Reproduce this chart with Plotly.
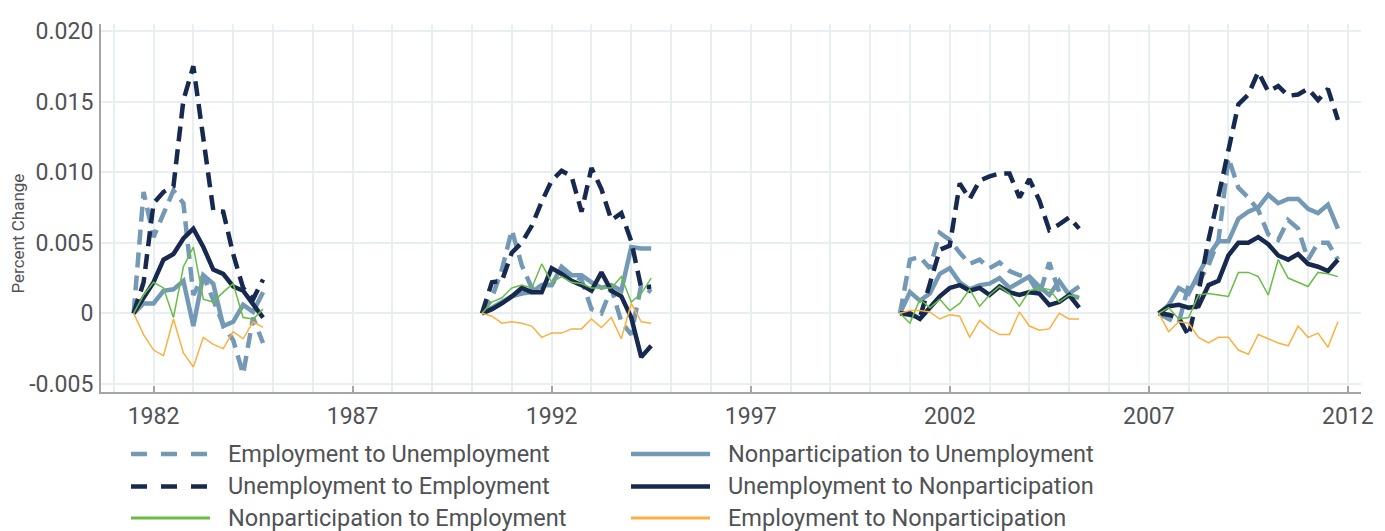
import plotly.graph_objects as go

# ---------------- data (quarterly, change since start of episode) ----------------
episode_starts = [1981.5, 1990.25, 2000.75, 2007.25]
episode_lengths = [14, 18, 19, 19]

series_names = [
    "Employment to Unemployment",
    "Nonparticipation to Unemployment",
    "Unemployment to Employment",
    "Unemployment to Nonparticipation",
    "Nonparticipation to Employment",
    "Employment to Nonparticipation",
]

emp_to_unemp = [
    0, 0.0086, 0.0054, 0.0071, 0.0087, 0.0078, 0.0013, 0.0027, 0.0010, -0.0008, -0.0019, -0.0043, -0.0003, -0.0021, None,
    0, 0.0011, 0.0031, 0.0059, 0.0034, 0.0018, 0.0020, 0.0020, 0.0031, 0.0027, 0.0024, 0.0003, 0.0000, 0.0018, -0.0006, -0.0015, 0.0020, 0.0015, None,
    0, 0.0038, 0.0040, 0.0032, 0.0057, 0.0052, 0.0043, 0.0035, 0.0038, 0.0032, 0.0036, 0.0030, 0.0027, 0.0025, 0.0013, 0.0036, 0.0015, 0.0014, 0.0019, None,
    0, -0.0004, -0.0007, 0.0020, 0.0022, 0.0034, 0.0052, 0.0110, 0.0089, 0.0082, 0.0073, 0.0056, 0.0052, 0.0066, 0.0060, 0.0038, 0.0050, 0.0050, 0.0038,
]
nonpart_to_unemp = [
    0, 0.0007, 0.0007, 0.0016, 0.0017, 0.0023, -0.0009, 0.0027, 0.0021, -0.0009, -0.0006, 0.0006, 0.0001, 0.0015, None,
    0, 0.0004, 0.0008, 0.0012, 0.0014, 0.0015, 0.0020, 0.0020, 0.0033, 0.0027, 0.0027, 0.0022, 0.0018, 0.0020, 0.0016, 0.0047, 0.0046, 0.0046, None,
    0, 0.0015, 0.0009, 0.0014, 0.0028, 0.0032, 0.0022, 0.0017, 0.0020, 0.0021, 0.0025, 0.0018, 0.0022, 0.0026, 0.0019, 0.0013, 0.0023, 0.0013, 0.0011, None,
    0, 0.0006, 0.0018, 0.0014, 0.0028, 0.0041, 0.0051, 0.0051, 0.0067, 0.0072, 0.0075, 0.0084, 0.0078, 0.0081, 0.0081, 0.0074, 0.0071, 0.0077, 0.0060,
]
unemp_to_emp = [
    0, 0.0022, 0.0078, 0.0086, 0.0090, 0.0151, 0.0175, 0.0125, 0.0073, 0.0072, 0.0042, 0.0018, 0.0010, 0.0024, None,
    0, 0.0022, 0.0023, 0.0043, 0.0050, 0.0062, 0.0079, 0.0094, 0.0101, 0.0097, 0.0072, 0.0103, 0.0088, 0.0066, 0.0071, 0.0051, 0.0018, 0.0019, None,
    0, -0.0001, -0.0003, 0.0021, 0.0045, 0.0048, 0.0092, 0.0081, 0.0094, 0.0097, 0.0099, 0.0099, 0.0082, 0.0095, 0.0080, 0.0059, 0.0063, 0.0068, 0.0060, None,
    0, -0.0001, -0.0003, -0.0016, 0.0015, 0.0052, 0.0083, 0.0115, 0.0148, 0.0155, 0.0171, 0.0157, 0.0161, 0.0154, 0.0155, 0.0159, 0.0151, 0.0159, 0.0137,
]
unemp_to_nonpart = [
    0, 0.0011, 0.0022, 0.0038, 0.0042, 0.0053, 0.0060, 0.0047, 0.0031, 0.0028, 0.0019, 0.0016, 0.0006, -0.0003, None,
    0, 0.0003, 0.0007, 0.0012, 0.0018, 0.0015, 0.0015, 0.0032, 0.0028, 0.0023, 0.0020, 0.0016, 0.0029, 0.0016, 0.0012, -0.0003, -0.0031, -0.0023, None,
    0, 0.0000, -0.0004, 0.0004, 0.0012, 0.0018, 0.0020, 0.0016, 0.0018, 0.0013, 0.0019, 0.0015, 0.0013, 0.0015, 0.0014, 0.0006, 0.0008, 0.0013, 0.0004, None,
    0, 0.0005, 0.0006, 0.0004, 0.0005, 0.0020, 0.0023, 0.0041, 0.0050, 0.0050, 0.0054, 0.0049, 0.0041, 0.0038, 0.0042, 0.0035, 0.0033, 0.0030, 0.0038,
]
nonpart_to_emp = [
    0, 0.0013, 0.0022, 0.0018, -0.0003, 0.0033, 0.0047, 0.0010, 0.0008, 0.0015, 0.0021, -0.0003, -0.0004, 0.0003, None,
    0, 0.0008, 0.0011, 0.0018, 0.0020, 0.0018, 0.0035, 0.0022, 0.0026, 0.0022, 0.0021, 0.0018, 0.0018, 0.0018, 0.0026, 0.0008, 0.0014, 0.0025, None,
    0, -0.0007, 0.0010, 0.0004, 0.0010, 0.0002, 0.0007, 0.0017, 0.0005, 0.0013, 0.0019, 0.0014, 0.0005, 0.0016, 0.0018, 0.0017, 0.0008, 0.0013, 0.0011, None,
    0, 0.0004, -0.0004, -0.0003, 0.0013, 0.0014, 0.0013, 0.0012, 0.0029, 0.0029, 0.0026, 0.0013, 0.0038, 0.0025, 0.0022, 0.0019, 0.0029, 0.0028, 0.0026,
]
emp_to_nonpart = [
    0, -0.0015, -0.0026, -0.0030, -0.0004, -0.0028, -0.0038, -0.0017, -0.0022, -0.0025, -0.0013, -0.0018, -0.0006, -0.0010, None,
    0, -0.0002, -0.0007, -0.0006, -0.0007, -0.0009, -0.0017, -0.0014, -0.0014, -0.0011, -0.0011, -0.0004, -0.0010, -0.0003, -0.0018, 0.0007, -0.0006, -0.0007, None,
    0, 0.0002, 0.0002, 0.0001, -0.0004, -0.0001, -0.0002, -0.0017, -0.0005, -0.0011, -0.0015, -0.0015, 0.0001, -0.0009, -0.0012, -0.0011, 0.0000, -0.0004, -0.0004, None,
    0, -0.0013, -0.0006, -0.0007, -0.0017, -0.0021, -0.0017, -0.0017, -0.0026, -0.0029, -0.0015, -0.0018, -0.0021, -0.0023, -0.0009, -0.0017, -0.0014, -0.0024, -0.0006,
]

y_tick_values = [-0.005, 0, 0.005, 0.010, 0.015, 0.020]
y_tick_labels = ["-0.005", "0", "0.005", "0.010", "0.015", "0.020"]
x_tick_years = [1982, 1987, 1992, 1997, 2002, 2007, 2012]

# ---------------- styling ----------------
W, H = 1385, 531
OFF = 8   # page body margin offset: figure coordinates = page coordinates - OFF
PL, PR, PT, PB = 101 - OFF, 1361 - OFF, 18 - OFF, 392 - OFF   # plot area in figure px
FONT = "Roboto, 'Open Sans', sans-serif"
TEXT = "#505255"
AXIS = "#a3a5a8"
GRID = "#e7eff2"

LIGHT = "#7499b4"
NAVY = "#17294f"
GREEN = "#69bd45"
ORANGE = "#fbb040"

styles = {
    "Employment to Unemployment": dict(color=LIGHT, width=4.5, dash="15px,8px"),
    "Nonparticipation to Unemployment": dict(color=LIGHT, width=4.5),
    "Unemployment to Employment": dict(color=NAVY, width=4.5, dash="15px,8px"),
    "Unemployment to Nonparticipation": dict(color=NAVY, width=4.5),
    "Nonparticipation to Employment": dict(color=GREEN, width=1.5),
    "Employment to Nonparticipation": dict(color=ORANGE, width=1.5),
}
legend_dash = {"Employment to Unemployment": "16px,14px", "Unemployment to Employment": "16px,14px"}

values = {
    "Employment to Unemployment": emp_to_unemp,
    "Nonparticipation to Unemployment": nonpart_to_unemp,
    "Unemployment to Employment": unemp_to_emp,
    "Unemployment to Nonparticipation": unemp_to_nonpart,
    "Nonparticipation to Employment": nonpart_to_emp,
    "Employment to Nonparticipation": emp_to_nonpart,
}

# quarterly dates with a gap between episodes
x = []
for k, (s, n) in enumerate(zip(episode_starts, episode_lengths)):
    x += [s + 0.25 * i for i in range(n)]
    if k < len(episode_starts) - 1:
        x.append(None)

fig = go.Figure()
for name in series_names:
    fig.add_trace(go.Scatter(
        x=x, y=values[name], mode="lines", name=name,
        line=styles[name], connectgaps=False, showlegend=False,
    ))


def px_x(p):
    return (p - OFF - PL) / (PR - PL)


def px_y(p):
    return (PB - (p - OFF)) / (PB - PT)


# custom legend (two columns, three rows) -- positions given in page px
legend_rows = [455, 488, 520]
legend_cols = [(131, 210, 226), (631, 710, 726)]
shapes, annotations = [], []
for idx, name in enumerate(series_names):
    r, c = divmod(idx, 2)
    x0, x1, xt = legend_cols[c]
    yy = legend_rows[r]
    st = styles[name]
    shapes.append(dict(
        type="line", xref="paper", yref="paper",
        x0=px_x(x0), x1=px_x(x1), y0=px_y(yy), y1=px_y(yy),
        line=dict(color=st["color"], width=st["width"] if st["width"] > 2 else 3,
                  dash=legend_dash.get(name, "solid")),
    ))
    annotations.append(dict(
        text=name, xref="paper", yref="paper", x=px_x(xt), y=px_y(yy),
        xanchor="left", yanchor="middle", showarrow=False,
        font=dict(family=FONT, size=23.5, color=TEXT),
    ))

annotations.append(dict(
    text="Percent Change", xref="paper", yref="paper",
    x=px_x(18), y=px_y(231), xanchor="center", yanchor="middle",
    textangle=-90, showarrow=False, font=dict(family=FONT, size=17, color=TEXT),
))

fig.update_layout(
    width=W, height=H,
    margin=dict(l=PL, r=W - PR, t=PT, b=H - PB, pad=0),
    paper_bgcolor="white", plot_bgcolor="white",
    font=dict(family=FONT, color=TEXT),
    shapes=shapes, annotations=annotations,
    showlegend=False,
)
fig.update_xaxes(
    range=[1980.68, 2012.33], tickmode="array", tickvals=x_tick_years,
    ticktext=[str(v) for v in x_tick_years],
    ticks="inside", ticklen=6, tickwidth=2, tickcolor=AXIS,
    showline=True, linecolor=AXIS, linewidth=2,
    showgrid=True, gridcolor=GRID, gridwidth=2, zeroline=False,
    minor=dict(dtick=1, tick0=1981, showgrid=True, gridcolor=GRID, gridwidth=2, ticks=""),
    tickfont=dict(family=FONT, size=23, color=TEXT), ticklabelstandoff=2,
)
fig.update_yaxes(
    range=[-0.00557, 0.02049], tickmode="array", tickvals=y_tick_values, ticktext=y_tick_labels,
    ticks="", showline=True, linecolor=AXIS, linewidth=2,
    showgrid=True, gridcolor=GRID, gridwidth=2, zeroline=False,
    tickfont=dict(family=FONT, size=23, color=TEXT), ticklabelstandoff=1,
)

fig.write_html("out.html")
